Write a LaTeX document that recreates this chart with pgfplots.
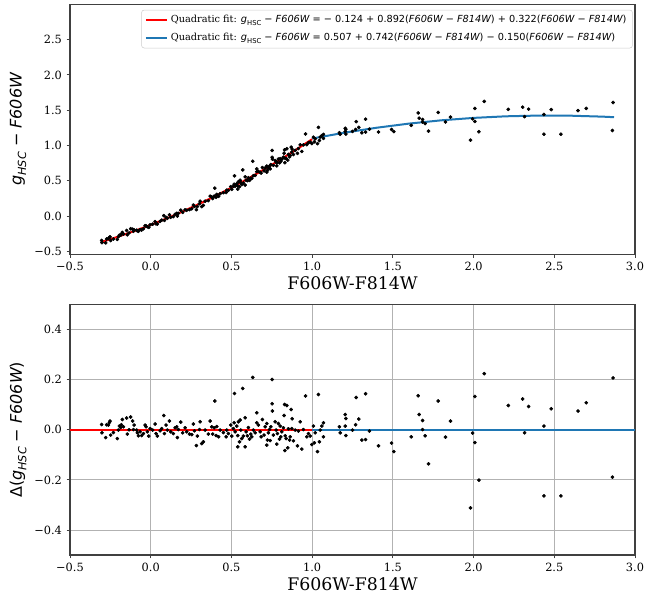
\documentclass[border=0pt]{standalone}
\usepackage{fontspec}
\setmainfont{DejaVu Serif}
\newfontfamily\dvs{DejaVu Sans}
\usepackage{graphicx}
\usepackage{pgfplots}
\usepackage{pgfplotstable}
\pgfplotsset{compat=1.18}
\definecolor{tabblue}{HTML}{1F77B4}
\newcommand{\mi}[1]{{\dvs\itshape #1}}
\newcommand{\mr}[1]{{\dvs #1}}
\newcommand{\sub}[1]{\raisebox{-0.28em}{\scalebox{0.7}{#1}}}
\newcommand{\colr}{\mr{(}\mi{F606W}\mr{ − }\mi{F814W}\mr{)}}

\pgfplotstableread{
x y r
-0.304 -0.344 0.021
-0.302 -0.376 -0.012
-0.279 -0.379 -0.031
-0.273 -0.324 0.020
-0.262 -0.317 0.019
-0.256 -0.302 0.029
-0.252 -0.293 0.035
-0.248 -0.346 -0.021
-0.231 -0.324 -0.011
-0.207 -0.330 -0.035
-0.200 -0.291 -0.001
-0.194 -0.270 0.015
-0.186 -0.270 0.009
-0.182 -0.256 0.020
-0.176 -0.230 0.041
-0.169 -0.254 0.012
-0.149 -0.203 0.047
-0.145 -0.264 -0.017
-0.134 -0.238 0.000
-0.124 -0.179 0.051
-0.112 -0.185 0.035
-0.107 -0.215 0.001
-0.103 -0.194 0.019
-0.087 -0.200 -0.001
-0.083 -0.208 -0.012
-0.076 -0.214 -0.024
-0.066 -0.190 -0.008
-0.056 -0.196 -0.023
-0.045 -0.179 -0.015
-0.035 -0.136 0.019
-0.029 -0.138 0.012
-0.021 -0.151 -0.008
-0.012 -0.160 -0.025
-0.004 -0.123 0.005
0.012 -0.114 -0.001
0.027 -0.077 0.023
0.033 -0.109 -0.015
0.041 -0.112 -0.025
0.058 -0.075 -0.004
0.068 -0.057 0.005
0.081 0.007 0.057
0.085 -0.061 -0.015
0.095 -0.017 0.019
0.103 -0.030 -0.001
0.116 0.019 0.035
0.124 -0.016 -0.008
0.140 -0.008 -0.015
0.151 0.026 0.008
0.161 0.040 0.012
0.165 0.001 -0.031
0.171 0.039 0.001
0.186 0.084 0.031
0.198 0.053 -0.012
0.213 0.089 0.008
0.223 0.083 -0.008
0.240 0.092 -0.017
0.254 0.104 -0.019
0.264 0.157 0.023
0.271 0.137 -0.004
0.283 0.091 -0.063
0.289 0.136 -0.025
0.302 0.176 0.001
0.306 0.211 0.032
0.316 0.135 -0.055
0.326 0.153 -0.048
0.337 0.212 -0.001
0.357 0.219 -0.017
0.368 0.283 0.035
0.378 0.271 0.012
0.384 0.249 -0.017
0.393 0.284 0.008
0.397 0.396 0.115
0.405 0.267 -0.023
0.409 0.308 0.013
0.421 0.281 -0.028
0.430 0.318 -0.001
0.450 0.332 -0.011
0.467 0.335 -0.028
0.471 0.367 -0.001
0.481 0.365 -0.015
0.496 0.417 0.019
0.502 0.380 -0.025
0.512 0.422 0.005
0.517 0.451 0.028
0.519 0.571 0.145
0.523 0.423 -0.008
0.533 0.458 0.015
0.539 0.427 -0.023
0.539 0.382 -0.068
0.543 0.487 0.032
0.550 0.416 -0.048
0.554 0.508 0.039
0.558 0.473 -0.001
0.564 0.447 -0.035
0.570 0.654 0.165
0.574 0.469 -0.025
0.585 0.556 0.048
0.585 0.440 -0.068
0.591 0.508 -0.008
0.599 0.502 -0.024
0.605 0.543 0.009
0.612 0.506 -0.037
0.620 0.536 -0.017
0.626 0.533 -0.028
0.632 0.777 0.209
0.636 0.573 -0.001
0.647 0.576 -0.012
0.657 0.669 0.068
0.657 0.629 0.028
0.667 0.633 0.019
0.678 0.621 -0.008
0.684 0.609 -0.028
0.692 0.688 0.041
0.702 0.640 -0.021
0.709 0.682 0.012
0.719 0.709 0.025
0.719 0.623 -0.061
0.723 0.648 -0.041
0.729 0.685 -0.012
0.736 0.708 0.001
0.740 0.669 -0.043
0.744 0.730 0.012
0.752 0.930 0.201
0.752 0.833 0.104
0.754 0.807 0.075
0.760 0.719 -0.021
0.771 0.787 0.032
0.777 0.763 -0.001
0.781 0.712 -0.057
0.785 0.760 -0.015
0.791 0.808 0.025
0.798 0.756 -0.037
0.802 0.814 0.015
0.806 0.776 -0.028
0.812 0.805 -0.008
0.822 0.835 0.008
0.826 0.890 0.057
0.829 0.938 0.101
0.831 0.757 -0.083
0.833 0.819 -0.024
0.839 0.816 -0.035
0.843 0.954 0.097
0.849 0.793 -0.072
0.853 0.875 0.004
0.860 0.840 -0.041
0.864 0.859 -0.028
0.870 0.977 0.081
0.874 0.907 0.005
0.876 0.949 0.044
0.884 0.872 -0.044
0.895 0.931 -0.001
0.909 0.889 -0.064
0.915 0.957 -0.005
0.926 1.010 0.032
0.936 0.916 -0.077
0.946 1.009 0.001
0.959 1.163 0.135
0.967 1.012 -0.028
0.977 1.040 -0.015
0.988 1.047 -0.025
0.998 1.028 -0.059
1.008 1.118 0.015
1.014 1.053 -0.052
1.019 1.095 -0.012
1.033 1.026 -0.087
1.039 1.257 0.141
1.045 1.071 -0.048
1.050 1.120 -0.001
1.060 1.140 0.015
1.070 1.157 0.028
1.070 1.101 -0.028
1.169 1.181 0.012
1.174 1.159 -0.012
1.205 1.244 0.061
1.205 1.198 0.015
1.209 1.230 0.045
1.209 1.162 -0.023
1.250 1.199 -0.001
1.269 1.227 0.020
1.273 1.338 0.129
1.289 1.257 0.043
1.308 1.180 -0.041
1.331 1.373 0.144
1.331 1.190 -0.039
1.355 1.232 -0.005
1.411 1.191 -0.064
1.492 1.227 -0.053
1.506 1.197 -0.087
1.614 1.286 -0.028
1.657 1.461 0.136
1.663 1.387 0.061
1.684 1.368 0.037
1.684 1.332 0.001
1.700 1.311 -0.024
1.721 1.204 -0.136
1.781 1.468 0.115
1.826 1.333 -0.029
1.857 1.403 0.035
1.981 1.076 -0.312
1.994 1.377 -0.013
2.008 1.525 0.133
2.008 1.341 -0.051
2.033 1.195 -0.201
2.066 1.624 0.224
2.215 1.512 0.097
2.304 1.543 0.123
2.316 1.409 -0.012
2.341 1.515 0.093
2.436 1.439 0.015
2.436 1.160 -0.264
2.481 1.509 0.084
2.541 1.160 -0.264
2.647 1.495 0.075
2.698 1.525 0.108
2.860 1.213 -0.189
2.864 1.609 0.207
}\stars

\pgfplotstableread{
x y
-0.3 -0.3626
-0.2 -0.2895
-0.1 -0.2100
0.0 -0.1240
0.1 -0.0316
0.2 0.0673
0.3 0.1726
0.4 0.2843
0.5 0.4025
0.6 0.5271
0.7 0.6582
0.8 0.7957
0.9 0.9396
1.0 1.0900
}\redfit

\pgfplotstableread{
x y
1.0 1.0990
1.2 1.1814
1.4 1.2518
1.6 1.3102
1.8 1.3566
2.0 1.3910
2.2 1.4134
2.4 1.4238
2.6 1.4222
2.8 1.4086
2.87 1.4010
}\bluefit

\pgfplotsset{
  base/.style={
    scale only axis,
    width=423.75pt,
    anchor=south west,
    xmin=-0.5, xmax=3.0,
    xtick={-0.5,0,0.5,1,1.5,2,2.5,3},
    xticklabels={−0.5,0.0,0.5,1.0,1.5,2.0,2.5,3.0},
    tick align=outside,
    xtick pos=bottom, ytick pos=left,
    major tick length=2.5pt,
    axis line style={black!75, line width=0.8pt},
    tick style={black!75, line width=0.6pt},
    tick label style={font=\fontsize{8.5}{10}\selectfont},
    xlabel={F606W-F814W},
    xlabel style={font=\fontsize{13}{15}\selectfont, at={(axis description cs:0.5,-0.115)}, anchor=center},
    ylabel style={font=\fontsize{12}{14}\selectfont, at={(axis description cs:-0.092,0.5)}, anchor=center},
    every axis plot/.append style={line join=round},
  },
  dots/.style={only marks, mark=*, mark size=1.2pt, black, mark options={fill=black, draw=none}},
}

\begin{document}
\begin{tikzpicture}
\path[use as bounding box] (0,0) rectangle (486.75pt,450pt);
\begin{axis}[base,
  at={(52.5pt,259.3pt)}, height=187.5pt,
  ymin=-0.54, ymax=3.0,
  ytick={-0.5,0,0.5,1,1.5,2,2.5},
  yticklabels={−0.5,0.0,0.5,1.0,1.5,2.0,2.5},
  ylabel={\mi{g}\sub{\mi{HSC}}\mr{ − }\mi{F606W}},
  legend image code/.code={\draw[#1] (0pt,0pt) -- (16pt,0pt);},
  legend style={at={(0.996,0.978)}, anchor=north east, draw=black!20, rounded corners=2pt,
    font=\fontsize{7.3}{8.5}\selectfont, row sep=2.4pt, inner xsep=2.5pt, inner ysep=2pt, fill=white},
  legend cell align=left,
]
\addplot[dots, forget plot] table[x=x, y=y] {\stars};
\addplot[red, line width=1.5pt] table[x=x, y=y] {\redfit};
\addlegendentry{Quadratic fit: \mi{g}\sub{\mr{HSC}}\mr{ − }\mi{F606W}\mr{ = − 0.124 + 0.892}\colr\mr{ + 0.322}\colr}
\addplot[tabblue, line width=1.5pt] table[x=x, y=y] {\bluefit};
\addlegendentry{Quadratic fit: \mi{g}\sub{\mr{HSC}}\mr{ − }\mi{F606W}\mr{ = 0.507 + 0.742}\colr\mr{ − 0.150}\colr}
\end{axis}

\begin{axis}[base,
  at={(52.5pt,33.75pt)}, height=187.8pt,
  ymin=-0.5, ymax=0.5,
  ytick={-0.4,-0.2,0,0.2,0.4},
  yticklabels={−0.4,−0.2,0.0,0.2,0.4},
  grid=major, major grid style={black!30, line width=0.6pt},
  ylabel={\mr{Δ(}\mi{g}\sub{\mi{HSC}}\mr{ − }\mi{F606W}\mr{)}},
]
\addplot[dots] table[x=x, y=r] {\stars};
\addplot[red, line width=1.5pt] coordinates {(-0.5,0) (1.0,0)};
\addplot[tabblue, line width=1.5pt] coordinates {(1.0,0) (3.0,0)};
\end{axis}
\end{tikzpicture}
\end{document}
